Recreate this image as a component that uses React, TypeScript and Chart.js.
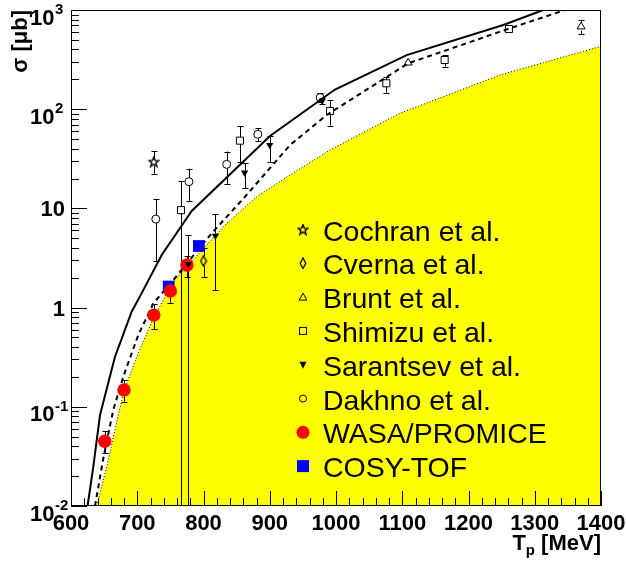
import React, { useEffect, useRef } from "react";
import { Chart, registerables } from "chart.js";

Chart.register(...registerables);

// ---- Theory curves (T_p in MeV, sigma in microbarn) ----
const solidT = [625, 633.7, 643.8, 666.4, 691.6, 709.1, 736.9, 782.2, 900.4, 998.5, 1106.7, 1252.5, 1313];
const solidSigma = [0.01, 0.0249, 0.0826, 0.32, 0.91, 1.5, 3.39, 9.42, 53.7, 158, 351, 706, 1000];

const dashedT = [636.2, 648.8, 663.8, 678.9, 701.6, 724.2, 754.4, 812.4, 862.6, 930.6, 986, 1109, 1262.6, 1345.7];
const dashedSigma = [0.01, 0.0303, 0.093, 0.201, 0.53, 1.1, 1.9, 5.61, 13.1, 43.5, 87.5, 290, 654, 1000];

const bandT = [638.8, 653.9, 678.9, 699.2, 724.2, 754.4, 807.2, 835, 880.3, 930.6, 991, 1096.6, 1247.5, 1400];
const bandSigma = [0.01, 0.0249, 0.137, 0.32, 0.78, 1.82, 4.45, 7.08, 13.1, 21.7, 38.8, 91, 221, 430];

// ---- Data sets ----
const cochranT = [725];
const cochranSigma = [29.6];
const cochranHi = [37.9];
const cochranLo = [22.2];

const cvernaT = [800];
const cvernaSigma = [2.95];
const cvernaHi = [3.96];
const cvernaLo = [2.02];

const bruntT = [1109, 1370];
const bruntSigma = [294, 680];
const bruntHi = [312, 798];
const bruntLo = [278, 569];

const shimizuT = [766, 855, 991, 1076, 1164, 1261];
const shimizuSigma = [9.6, 48.2, 95.9, 182.5, 313, 643];
const shimizuHi = [19, 67.8, 124, 213, 349, 675];
const shimizuLo = [0.001, 29.2, 68.2, 146.6, 268, 615];

const sarantsevT = [777, 818, 862, 900, 979];
const sarantsevSigma = [2.75, 5.3, 22.9, 43.5, 121];
const sarantsevHi = [5.4, 8.8, 28.5, 53.7, 130];
const sarantsevLo = [0.001, 1.5, 16.0, 29.2, 112];

const dakhnoT = [728, 778, 835, 882, 976];
const dakhnoSigma = [7.8, 18.6, 27.8, 55.9, 131];
const dakhnoHi = [12.5, 25.1, 37.4, 64.6, 144];
const dakhnoLo = [2.95, 11.9, 17.7, 47.4, 118];

const wasaT = [651, 680, 725, 750, 775];
const wasaSigma = [0.045, 0.148, 0.84, 1.47, 2.69];
const wasaHi = [0.057, 0.185, 1.08, 1.8, 3.3];
const wasaLo = [0.034, 0.113, 0.608, 1.12, 2.02];

const cosyT = [747.5, 793];
const cosySigma = [1.63, 4.18];

// ---- Axes ----
const xTickValues = [600, 700, 800, 900, 1000, 1100, 1200, 1300, 1400];
const yTickExponents = [-2, -1, 0, 1, 2, 3];
const xTitleMain = "T";
const xTitleSub = "p";
const xTitleRest = " [MeV]";
const yTitle = "σ [μb]";

const legendLabels = [
  "Cochran et al.",
  "Cverna et al.",
  "Brunt et al.",
  "Shimizu et al.",
  "Sarantsev et al.",
  "Dakhno et al.",
  "WASA/PROMICE",
  "COSY-TOF",
];

const FONT = '"Liberation Sans", Arial, Helvetica, sans-serif';

function pts(T: number[], S: number[]) {
  return T.map((t, i) => ({ x: t, y: S[i] }));
}

function makeStar(): HTMLCanvasElement {
  const c = document.createElement("canvas");
  c.width = 12;
  c.height = 12;
  const ctx = c.getContext("2d")!;
  const cx = 6, cy = 6.4, R = 5.2, r = 2.2;
  ctx.beginPath();
  for (let i = 0; i < 10; i++) {
    const a = -Math.PI / 2 + (i * Math.PI) / 5;
    const rad = i % 2 === 0 ? R : r;
    ctx.lineTo(cx + rad * Math.cos(a), cy + rad * Math.sin(a));
  }
  ctx.closePath();
  ctx.strokeStyle = "#000";
  ctx.lineWidth = 1.4;
  ctx.stroke();
  return c;
}

function makeDiamond(): HTMLCanvasElement {
  const c = document.createElement("canvas");
  c.width = 8;
  c.height = 12;
  const ctx = c.getContext("2d")!;
  ctx.beginPath();
  ctx.moveTo(4, 0.8);
  ctx.lineTo(6.8, 6);
  ctx.lineTo(4, 11.2);
  ctx.lineTo(1.2, 6);
  ctx.closePath();
  ctx.strokeStyle = "#000";
  ctx.lineWidth = 1.3;
  ctx.stroke();
  return c;
}

export default function App() {
  const ref = useRef<HTMLCanvasElement | null>(null);

  useEffect(() => {
    if (!ref.current) return;
    const star = makeStar();
    const diamond = makeDiamond();

    const errSeries = [
      { T: wasaT, S: wasaSigma, H: wasaHi, L: wasaLo, gap: 0 },
      { T: cochranT, S: cochranSigma, H: cochranHi, L: cochranLo, gap: 4 },
      { T: cvernaT, S: cvernaSigma, H: cvernaHi, L: cvernaLo, gap: 5 },
      { T: bruntT, S: bruntSigma, H: bruntHi, L: bruntLo, gap: 4 },
      { T: shimizuT, S: shimizuSigma, H: shimizuHi, L: shimizuLo, gap: 3.5 },
      { T: sarantsevT, S: sarantsevSigma, H: sarantsevHi, L: sarantsevLo, gap: 2 },
      { T: dakhnoT, S: dakhnoSigma, H: dakhnoHi, L: dakhnoLo, gap: 4 },
    ];

    const overlay = {
      id: "overlay",
      afterDatasetDraw(chart: any, args: any) {
        if (args.index !== 0) return;
        const { ctx, chartArea: a, scales } = chart;
        const xs = scales.x, ys = scales.y;
        ctx.save();
        ctx.beginPath();
        ctx.rect(a.left, a.top, a.right - a.left, a.bottom - a.top);
        ctx.clip();
        ctx.strokeStyle = "#000";
        ctx.lineWidth = 1;
        for (const s of errSeries) {
          for (let i = 0; i < s.T.length; i++) {
            const px = Math.round(xs.getPixelForValue(s.T[i])) + 0.5;
            const py = ys.getPixelForValue(s.S[i]);
            const hp = ys.getPixelForValue(s.H[i]);
            const lp = ys.getPixelForValue(s.L[i]);
            ctx.beginPath();
            if (py - hp > s.gap) {
              ctx.moveTo(px, py - s.gap);
              ctx.lineTo(px, hp);
              ctx.moveTo(px - 3, Math.round(hp) + 0.5);
              ctx.lineTo(px + 3, Math.round(hp) + 0.5);
            }
            if (lp - py > s.gap) {
              ctx.moveTo(px, py + s.gap);
              ctx.lineTo(px, lp);
              ctx.moveTo(px - 3, Math.round(lp) + 0.5);
              ctx.lineTo(px + 3, Math.round(lp) + 0.5);
            }
            ctx.stroke();
          }
        }
        ctx.restore();
      },
      afterDatasetsDraw(chart: any) {
        const { ctx, chartArea: a, scales } = chart;
        const xs = scales.x, ys = scales.y;
        ctx.save();
        ctx.strokeStyle = "#000";
        ctx.lineWidth = 1;
        ctx.strokeRect(a.left + 0.5, a.top + 0.5, a.right - a.left - 1, a.bottom - a.top - 1);
        ctx.beginPath();
        // x ticks (inward)
        for (let v = xTickValues[0]; v <= xTickValues[xTickValues.length - 1]; v += 20) {
          const px = Math.round(xs.getPixelForValue(v)) + 0.5;
          const len = v % 100 === 0 ? 15 : 8;
          ctx.moveTo(px, a.bottom);
          ctx.lineTo(px, a.bottom - len);
        }
        // y ticks (inward)
        for (let e = yTickExponents[0]; e <= yTickExponents[yTickExponents.length - 1]; e++) {
          for (let m = 1; m <= 9; m++) {
            if (e === yTickExponents[yTickExponents.length - 1] && m > 1) break;
            const v = m * Math.pow(10, e);
            const py = Math.round(ys.getPixelForValue(v)) + 0.5;
            const len = m === 1 ? 16 : 8;
            ctx.moveTo(a.left, py);
            ctx.lineTo(a.left + len, py);
          }
        }
        ctx.stroke();
        ctx.restore();
      },
      afterDraw(chart: any) {
        const { ctx, chartArea: a, scales } = chart;
        const xs = scales.x, ys = scales.y;
        ctx.save();
        ctx.fillStyle = "#000";
        // x tick labels
        ctx.font = `bold 22px ${FONT}`;
        ctx.textAlign = "center";
        ctx.textBaseline = "alphabetic";
        for (const v of xTickValues) {
          ctx.fillText(String(v), xs.getPixelForValue(v), a.bottom + 24);
        }
        // y tick labels
        for (const e of yTickExponents) {
          const py = ys.getPixelForValue(Math.pow(10, e));
          if (e === 0 || e === 1) {
            ctx.font = `bold 22px ${FONT}`;
            ctx.textAlign = "right";
            ctx.fillText(e === 0 ? "1" : "10", a.left - 6, py + 8);
          } else {
            ctx.font = `bold 22px ${FONT}`;
            ctx.textAlign = "right";
            ctx.fillText("10", a.left - 16.5, py + 14.5);
            ctx.font = `bold 15px ${FONT}`;
            ctx.textAlign = "left";
            ctx.fillText(e < 0 ? "-" + String(-e) : String(e), a.left - 16, py + 4);
          }
        }
        // x title
        ctx.textAlign = "left";
        ctx.font = `bold 22px ${FONT}`;
        const w1 = ctx.measureText(xTitleMain).width;
        const w3 = ctx.measureText(xTitleRest).width;
        ctx.font = `bold 15px ${FONT}`;
        const w2 = ctx.measureText(xTitleSub).width;
        const tx = a.right - (w1 + w2 + w3);
        const ty = a.bottom + 44;
        ctx.font = `bold 22px ${FONT}`;
        ctx.fillText(xTitleMain, tx, ty);
        ctx.font = `bold 15px ${FONT}`;
        ctx.fillText(xTitleSub, tx + w1, ty + 5);
        ctx.font = `bold 22px ${FONT}`;
        ctx.fillText(xTitleRest, tx + w1 + w2, ty);
        // y title
        ctx.save();
        ctx.translate(27, a.top);
        ctx.rotate(-Math.PI / 2);
        ctx.textAlign = "right";
        ctx.font = `bold 22px ${FONT}`;
        ctx.fillText(yTitle, 0, 0);
        ctx.restore();

        // legend
        const mx = 303, tx0 = 323, y0 = 230.5, step = 33.8;
        ctx.font = `28.5px ${FONT}`;
        ctx.textAlign = "left";
        legendLabels.forEach((lab, i) => {
          const cy = y0 + i * step;
          ctx.fillStyle = "#000";
          ctx.fillText(lab, tx0, cy + 10);
          const my = cy - 1;
          ctx.strokeStyle = "#000";
          ctx.lineWidth = 1;
          ctx.beginPath();
          if (i === 0) {
            ctx.drawImage(star, mx - 6, my - 6);
          } else if (i === 1) {
            ctx.drawImage(diamond, mx - 4, my - 6);
          } else if (i === 2) {
            ctx.moveTo(mx, my - 4);
            ctx.lineTo(mx + 3.8, my + 3);
            ctx.lineTo(mx - 3.8, my + 3);
            ctx.closePath();
            ctx.stroke();
          } else if (i === 3) {
            ctx.strokeRect(mx - 3.5, my - 3.5, 7, 7);
          } else if (i === 4) {
            ctx.moveTo(mx - 3.5, my - 3);
            ctx.lineTo(mx + 3.5, my - 3);
            ctx.lineTo(mx, my + 4);
            ctx.closePath();
            ctx.fill();
          } else if (i === 5) {
            ctx.arc(mx, my, 3.5, 0, Math.PI * 2);
            ctx.stroke();
          } else if (i === 6) {
            ctx.fillStyle = "#ff0000";
            ctx.arc(mx, my, 6.5, 0, Math.PI * 2);
            ctx.fill();
          } else if (i === 7) {
            ctx.fillStyle = "#0000ff";
            ctx.fillRect(mx - 6, my - 6, 12, 12);
          }
        });
        ctx.restore();
      },
    };

    const open = {
      showLine: false,
      pointBackgroundColor: "rgba(0,0,0,0)",
      pointBorderColor: "#000",
      pointBorderWidth: 1,
    };

    const chart = new Chart(ref.current, {
      type: "line",
      data: {
        datasets: [
          {
            label: "band",
            data: pts(bandT, bandSigma),
            showLine: true,
            fill: "start",
            backgroundColor: "#ffff00",
            borderColor: "#000",
            borderWidth: 1,
            borderDash: [1, 2],
            pointRadius: 0,
            tension: 0,
            order: 100,
          },
          {
            label: "solid",
            data: pts(solidT, solidSigma),
            borderColor: "#000",
            borderWidth: 2,
            pointRadius: 0,
            fill: false,
            order: 90,
          },
          {
            label: "dashed",
            data: pts(dashedT, dashedSigma),
            borderColor: "#000",
            borderWidth: 2,
            borderDash: [5, 4],
            pointRadius: 0,
            fill: false,
            order: 90,
          },
          {
            label: "COSY-TOF",
            data: pts(cosyT, cosySigma),
            showLine: false,
            pointStyle: "rect",
            pointRadius: 8.3,
            pointBackgroundColor: "#0000ff",
            pointBorderWidth: 0,
            order: 60,
          },
          {
            label: "WASA/PROMICE",
            data: pts(wasaT, wasaSigma),
            showLine: false,
            pointStyle: "circle",
            pointRadius: 6.7,
            pointBackgroundColor: "#ff0000",
            pointBorderWidth: 0,
            order: 50,
          },
          {
            label: "Cochran et al.",
            data: pts(cochranT, cochranSigma),
            ...open,
            pointStyle: star,
            pointRadius: 5,
            order: 10,
          },
          {
            label: "Cverna et al.",
            data: pts(cvernaT, cvernaSigma),
            ...open,
            pointStyle: diamond,
            pointRadius: 5,
            order: 10,
          },
          {
            label: "Brunt et al.",
            data: pts(bruntT, bruntSigma),
            ...open,
            pointStyle: "triangle",
            pointRadius: 4.6,
            order: 10,
          },
          {
            label: "Shimizu et al.",
            data: pts(shimizuT, shimizuSigma),
            ...open,
            pointStyle: "rect",
            pointRadius: 5,
            order: 10,
          },
          {
            label: "Dakhno et al.",
            data: pts(dakhnoT, dakhnoSigma),
            ...open,
            pointStyle: "circle",
            pointRadius: 4,
            order: 10,
          },
          {
            label: "Sarantsev et al.",
            data: pts(sarantsevT, sarantsevSigma),
            showLine: false,
            pointStyle: "triangle",
            pointRotation: 180,
            pointRadius: 4.2,
            pointBackgroundColor: "#000",
            pointBorderColor: "#000",
            pointBorderWidth: 0,
            order: 0,
          },
        ] as any,
      },
      options: {
        animation: false,
        responsive: false,
        maintainAspectRatio: false,
        events: [],
        layout: { padding: { left: 71, top: 10, right: 25, bottom: 61 } },
        scales: {
          x: { type: "linear", min: 600, max: 1400, display: false },
          y: { type: "logarithmic", min: 0.01, max: 1000, display: false },
        },
        plugins: {
          legend: { display: false },
          tooltip: { enabled: false },
        },
      } as any,
      plugins: [overlay],
    });
    return () => chart.destroy();
  }, []);

  return (
    <canvas
      ref={ref}
      width={626}
      height={567}
      style={{ position: "absolute", left: 0, top: 0, width: 626, height: 567 }}
    />
  );
}
